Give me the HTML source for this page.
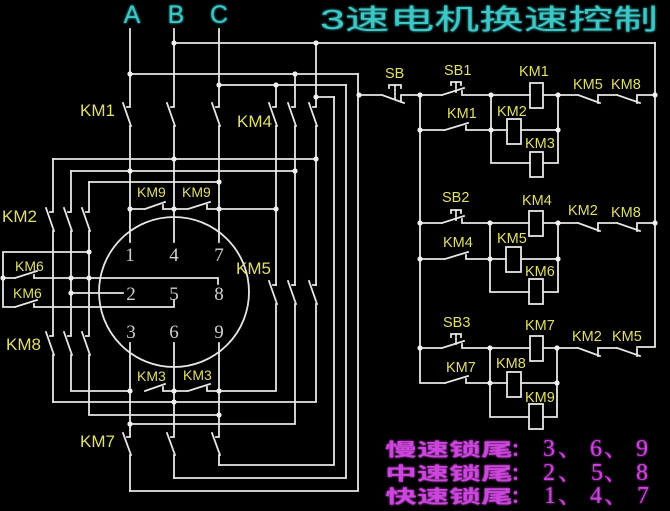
<!DOCTYPE html>
<html><head><meta charset="utf-8"><style>
html,body{margin:0;padding:0;background:#000;}
svg{display:block;}
.w{stroke:#e6e6e6;stroke-width:1.8;fill:none;stroke-linecap:square;}
.y{fill:#e2de6c;font-family:"Liberation Sans",sans-serif;}
.n{fill:#d0d0d0;font-family:"Liberation Serif",serif;font-size:19px;text-anchor:middle;}
.m{fill:#cc44dd;}
</style></head><body>
<svg width="670" height="511" viewBox="0 0 670 511" xmlns="http://www.w3.org/2000/svg">
<rect width="670" height="511" fill="#000"/>
<defs><filter id="g" x="-20%" y="-20%" width="140%" height="140%"><feGaussianBlur stdDeviation="1.2" result="b"/><feMerge><feMergeNode in="b"/><feMergeNode in="SourceGraphic"/></feMerge></filter></defs>

<!-- Title & phases -->
<g fill="#3ec8c8" filter="url(#g)">
<text x="320" y="29" font-family="'Liberation Sans','Noto Sans CJK SC',sans-serif" font-size="28" textLength="338" lengthAdjust="spacingAndGlyphs">3速电机换速控制</text>
<text x="132" y="23" font-family="'Liberation Sans',sans-serif" font-size="25" text-anchor="middle">A</text>
<text x="176" y="23" font-family="'Liberation Sans',sans-serif" font-size="25" text-anchor="middle">B</text>
<text x="219" y="23" font-family="'Liberation Sans',sans-serif" font-size="25" text-anchor="middle">C</text>
</g>

<g class="w">
<!-- phase verticals top + KM1 -->
<path d="M130 29V107M127 107H130M174 29V107M171 107H174M219 29V107M216 107H219"/>
<path d="M123 103L131 126M167 103L175 126M212 103L220 126"/>
<path d="M130 126V242M174 126V242M219 126V242"/>
<!-- top horizontals -->
<path d="M130 74H358M174 43H655M219 85H346M316 97H334"/>
<!-- KM4 -->
<path d="M276 85V107M273 107H276M295 74V107M292 107H295M316 43V107M313 107H316"/>
<path d="M269 103L277 126M288 103L296 126M309 103L317 126"/>
<path d="M276 126V285M295 126V285M316 126V285"/>
<path d="M273 285H276M292 285H295M313 285H316"/>
<!-- KM5 -->
<path d="M269 281L277 304M288 281L296 304M309 281L317 304"/>
<path d="M276 304V391H219M295 304V424H130M316 304V402H53"/>
<!-- outer returns -->
<path d="M334 97V465H219M346 85V478H174M358 74V491H130"/>
<!-- winding feeders -->
<path d="M53 159H316M71 171H295M89 182H219"/>
<!-- KM2 / KM8 verticals -->
<path d="M53 159V212M50 212H53M71 171V212M68 212H71M89 182V212M86 212H89"/>
<path d="M46 208L54 231M64 208L72 231M82 208L90 231"/>
<path d="M53 231V336M50 336H53M71 231V336M68 336H71M89 231V336M86 336H89"/>
<path d="M46 332L54 355M64 332L72 355M82 332L90 355"/>
<path d="M53 355V402M71 355V391H130M89 355V415H219"/>
<!-- KM9 row -->
<path d="M130 209H145M145 209L165 202M163 205V209H174M174 209H188M188 209L210 202M207 205V209H276"/>
<!-- KM3 row -->
<path d="M145 391L165 384M163 387V391H174M174 391H188M188 391L210 384M207 387V391H219"/>
<!-- bottom phase verticals + KM7 -->
<path d="M130 343V437M127 437H130M174 343V437M171 437H174M219 343V437M216 437H219"/>
<path d="M123 433L131 455M167 433L175 455M212 433L220 455"/>
<path d="M130 455V491M174 455V478M219 455V465"/>
<!-- circle -->
<circle cx="174" cy="292" r="75"/>
<!-- KM6 loop -->
<path d="M89 252H3V307H15M15 307L37 300M34 304V307H174V300"/>
<path d="M3 278H15M15 278L37 271M34 275V278H218V284"/>
<path d="M71 293H123"/>

<!-- ladder -->
<path d="M359 95H382M382 95L404 103M401 95V102M401 95H420"/>
<path d="M389 85H401M389 85V88M401 85V88"/>
<path d="M395 85V99" stroke-dasharray="2 2"/>
<path d="M420 95V383H445"/>
<path d="M655 43V347H637"/>
<!-- row1 -->
<path d="M420 95H442M442 95L464 88M462 91V95H530M543 95H578M578 95L600 103M598 96V103M598 95H617M617 95L640 103M637 96V103M637 95H655"/>
<path d="M451 82H461M451 82V85M461 82V85"/><path d="M456 82V92" stroke-dasharray="2 2"/>
<rect x="530" y="83" width="13" height="25"/>
<path d="M420 130H445M445 130L468 123M466 126V130H507M521 130H558"/>
<rect x="507" y="119" width="14" height="25"/>
<path d="M491 95V163H530M543 163H558V95"/>
<rect x="530" y="152" width="13" height="25"/>
<!-- row2 -->
<path d="M420 223H442M442 223L464 216M462 219V223H529M543 223H578M578 223L600 231M598 224V231M598 223H617M617 223L640 231M637 224V231M637 223H655"/>
<path d="M451 210H461M451 210V213M461 210V213"/><path d="M456 210V220" stroke-dasharray="2 2"/>
<rect x="529" y="211" width="14" height="25"/>
<path d="M420 259H445M445 259L468 252M466 255V259H506M521 259H558"/>
<rect x="506" y="247" width="15" height="25"/>
<path d="M490 223V292H529M543 292H558V223"/>
<rect x="529" y="279" width="14" height="25"/>
<!-- row3 -->
<path d="M420 348H442M442 348L464 341M462 344V348H530M543 348H578M578 348L600 356M598 349V356M598 348H617M617 348L640 356M637 349V356"/>
<path d="M451 334H461M451 334V337M461 334V337"/><path d="M456 334V344" stroke-dasharray="2 2"/>
<rect x="530" y="336" width="13" height="25"/>
<path d="M445 383L468 376M466 379V383H507M521 383H557"/>
<rect x="507" y="372" width="14" height="25"/>
<path d="M490 348V417H529M543 417H557V348"/>
<rect x="529" y="404" width="14" height="25"/>
</g>

<!-- dots -->
<g fill="#f0f0f0">
<circle cx="130" cy="74" r="2.6"/><circle cx="174" cy="43" r="2.6"/><circle cx="219" cy="85" r="2.6"/>
<circle cx="295" cy="74" r="2.6"/><circle cx="276" cy="85" r="2.6"/><circle cx="316" cy="43" r="2.6"/>
<circle cx="316" cy="97" r="2.6"/><circle cx="359" cy="95" r="2.6"/>
<circle cx="174" cy="159" r="2.6"/><circle cx="316" cy="159" r="2.6"/>
<circle cx="130" cy="171" r="2.6"/><circle cx="295" cy="171" r="2.6"/><circle cx="219" cy="182" r="2.6"/>
<circle cx="130" cy="209" r="2.6"/><circle cx="174" cy="209" r="2.6"/><circle cx="219" cy="209" r="2.6"/><circle cx="276" cy="209" r="2.6"/>
<circle cx="89" cy="252" r="2.6"/><circle cx="3" cy="278" r="2.6"/><circle cx="71" cy="278" r="2.6"/><circle cx="89" cy="278" r="2.6"/>
<circle cx="71" cy="293" r="2.6"/>
<circle cx="130" cy="391" r="2.6"/><circle cx="174" cy="391" r="2.6"/><circle cx="219" cy="391" r="2.6"/>
<circle cx="174" cy="402" r="2.6"/><circle cx="219" cy="415" r="2.6"/><circle cx="130" cy="424" r="2.6"/>
<circle cx="420" cy="95" r="2.6"/><circle cx="491" cy="95" r="2.6"/><circle cx="558" cy="95" r="2.6"/><circle cx="655" cy="95" r="2.6"/>
<circle cx="420" cy="130" r="2.6"/><circle cx="491" cy="130" r="2.6"/><circle cx="558" cy="130" r="2.6"/>
<circle cx="420" cy="223" r="2.6"/><circle cx="490" cy="223" r="2.6"/><circle cx="558" cy="223" r="2.6"/><circle cx="655" cy="223" r="2.6"/>
<circle cx="420" cy="259" r="2.6"/><circle cx="490" cy="259" r="2.6"/><circle cx="558" cy="259" r="2.6"/>
<circle cx="420" cy="348" r="2.6"/><circle cx="490" cy="348" r="2.6"/><circle cx="557" cy="348" r="2.6"/>
<circle cx="490" cy="383" r="2.6"/><circle cx="557" cy="383" r="2.6"/>
</g>

<!-- terminal numbers -->
<g class="n">
<text x="130" y="261">1</text><text x="174" y="261">4</text><text x="219" y="261">7</text>
<text x="131" y="300">2</text><text x="174" y="300">5</text><text x="219" y="300">8</text>
<text x="131" y="338">3</text><text x="174" y="338">6</text><text x="219" y="338">9</text>
</g>

<!-- yellow labels -->
<g class="y" font-size="17">
<text x="80" y="116">KM1</text>
<text x="237" y="127">KM4</text>
<text x="236" y="274">KM5</text>
<text x="2" y="222">KM2</text>
<text x="6" y="350">KM8</text>
<text x="80" y="447">KM7</text>
</g>
<g class="y" font-size="14">
<text x="137" y="197">KM9</text><text x="182" y="197">KM9</text>
<text x="137" y="381">KM3</text><text x="183" y="380">KM3</text>
<text x="15" y="271">KM6</text><text x="13" y="298">KM6</text>
</g>
<g class="y" font-size="14.5">
<text x="385" y="78">SB</text>
<text x="444" y="75">SB1</text>
<text x="519" y="76">KM1</text>
<text x="573" y="89">KM5</text><text x="611" y="89">KM8</text>
<text x="447" y="118">KM1</text>
<text x="497" y="116">KM2</text>
<text x="525" y="148">KM3</text>
<text x="442" y="202">SB2</text>
<text x="522" y="205">KM4</text>
<text x="568" y="215">KM2</text><text x="611" y="217">KM8</text>
<text x="443" y="247">KM4</text>
<text x="497" y="243">KM5</text>
<text x="525" y="276">KM6</text>
<text x="443" y="327">SB3</text>
<text x="525" y="330">KM7</text>
<text x="572" y="341">KM2</text><text x="612" y="341">KM5</text>
<text x="446" y="372">KM7</text>
<text x="496" y="368">KM8</text>
<text x="525" y="402">KM9</text>
</g>

<!-- magenta notes -->
<g class="m" filter="url(#g)">
<g font-family="'Liberation Sans','Noto Sans CJK SC',sans-serif" font-size="18" font-weight="bold">
<text x="385" y="456" textLength="128" lengthAdjust="spacingAndGlyphs">慢速锁尾</text>
<text x="385" y="480" textLength="128" lengthAdjust="spacingAndGlyphs">中速锁尾</text>
<text x="385" y="503" textLength="128" lengthAdjust="spacingAndGlyphs">快速锁尾</text>
<text x="511" y="456">：</text><text x="511" y="480">：</text><text x="511" y="503">：</text>
</g>
<g font-family="'Liberation Serif','Noto Serif CJK SC',serif" font-size="24">
<text x="543" y="456">3</text><text x="558" y="456">、</text><text x="590" y="456">6</text><text x="604" y="456">、</text><text x="636" y="456">9</text>
<text x="543" y="480">2</text><text x="558" y="480">、</text><text x="591" y="480">5</text><text x="604" y="480">、</text><text x="636" y="480">8</text>
<text x="544" y="503">1</text><text x="558" y="503">、</text><text x="590" y="503">4</text><text x="604" y="503">、</text><text x="637" y="503">7</text>
</g>
</g>
</svg>
</body></html>
